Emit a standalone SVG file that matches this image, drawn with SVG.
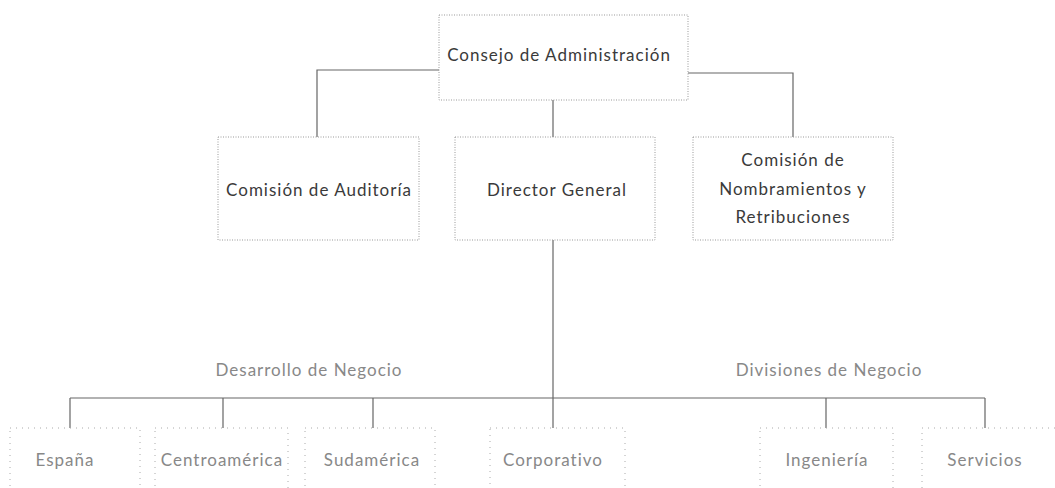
<svg xmlns="http://www.w3.org/2000/svg" width="1055" height="488" viewBox="0 0 1055 488">
<style>
.box{fill:#fff;stroke:#999;stroke-width:1;stroke-dasharray:1 1.5}
.lbox{fill:none;stroke:#aaa;stroke-width:1;stroke-dasharray:1 5}
.t{font-family:Lato,"Open Sans",sans-serif;font-size:17px;letter-spacing:1px;fill:#3a3a3a;text-anchor:middle}
.tl{font-family:Lato,"Open Sans",sans-serif;font-size:17px;letter-spacing:1px;fill:#888;text-anchor:middle}
.c{fill:none;stroke:#666;stroke-width:1.2}
</style>
<rect width="1055" height="488" fill="#fff"/>
<g id="connectors">
<path class="c" d="M439 70 H317 V137"/>
<path class="c" d="M688 73 H793 V137"/>
<path class="c" d="M553 100 V137"/>
<path class="c" d="M553 240 V428"/>
<path class="c" d="M70 398 H985"/>
<path class="c" d="M70 398 V428 M223 398 V428 M373 398 V428 M826 398 V428 M985 398 V428"/>
</g>
<g id="consejo"><rect class="box" x="439" y="15" width="249" height="85"/><text class="t" x="559" y="61">Consejo de Administración</text></g>
<g id="auditoria"><rect class="box" x="218" y="137" width="201" height="103"/><text class="t" x="319" y="196">Comisión de Auditoría</text></g>
<g id="director"><rect class="box" x="455" y="137" width="200" height="103"/><text class="t" x="557" y="196">Director General</text></g>
<g id="nombramientos"><rect class="box" x="693" y="137" width="200" height="103"/><text class="t" x="793" y="166">Comisión de</text><text class="t" x="793" y="195">Nombramientos y</text><text class="t" x="793" y="223">Retribuciones</text></g>
<g id="desarrollo"><text class="tl" x="309" y="376">Desarrollo de Negocio</text></g>
<g id="divisiones"><text class="tl" x="829" y="376">Divisiones de Negocio</text></g>
<g id="espana"><rect class="lbox" x="10" y="428" width="130" height="70"/><text class="tl" x="65" y="466">España</text></g>
<g id="centroamerica"><rect class="lbox" x="155" y="428" width="133" height="70"/><text class="tl" x="222" y="466">Centroamérica</text></g>
<g id="sudamerica"><rect class="lbox" x="305" y="428" width="130" height="70"/><text class="tl" x="372" y="466">Sudamérica</text></g>
<g id="corporativo"><rect class="lbox" x="490" y="428" width="135" height="70"/><text class="tl" x="553" y="466">Corporativo</text></g>
<g id="ingenieria"><rect class="lbox" x="760" y="428" width="133" height="70"/><text class="tl" x="827" y="466">Ingeniería</text></g>
<g id="servicios"><rect class="lbox" x="922" y="428" width="140" height="70"/><text class="tl" x="985" y="466">Servicios</text></g>
</svg>
